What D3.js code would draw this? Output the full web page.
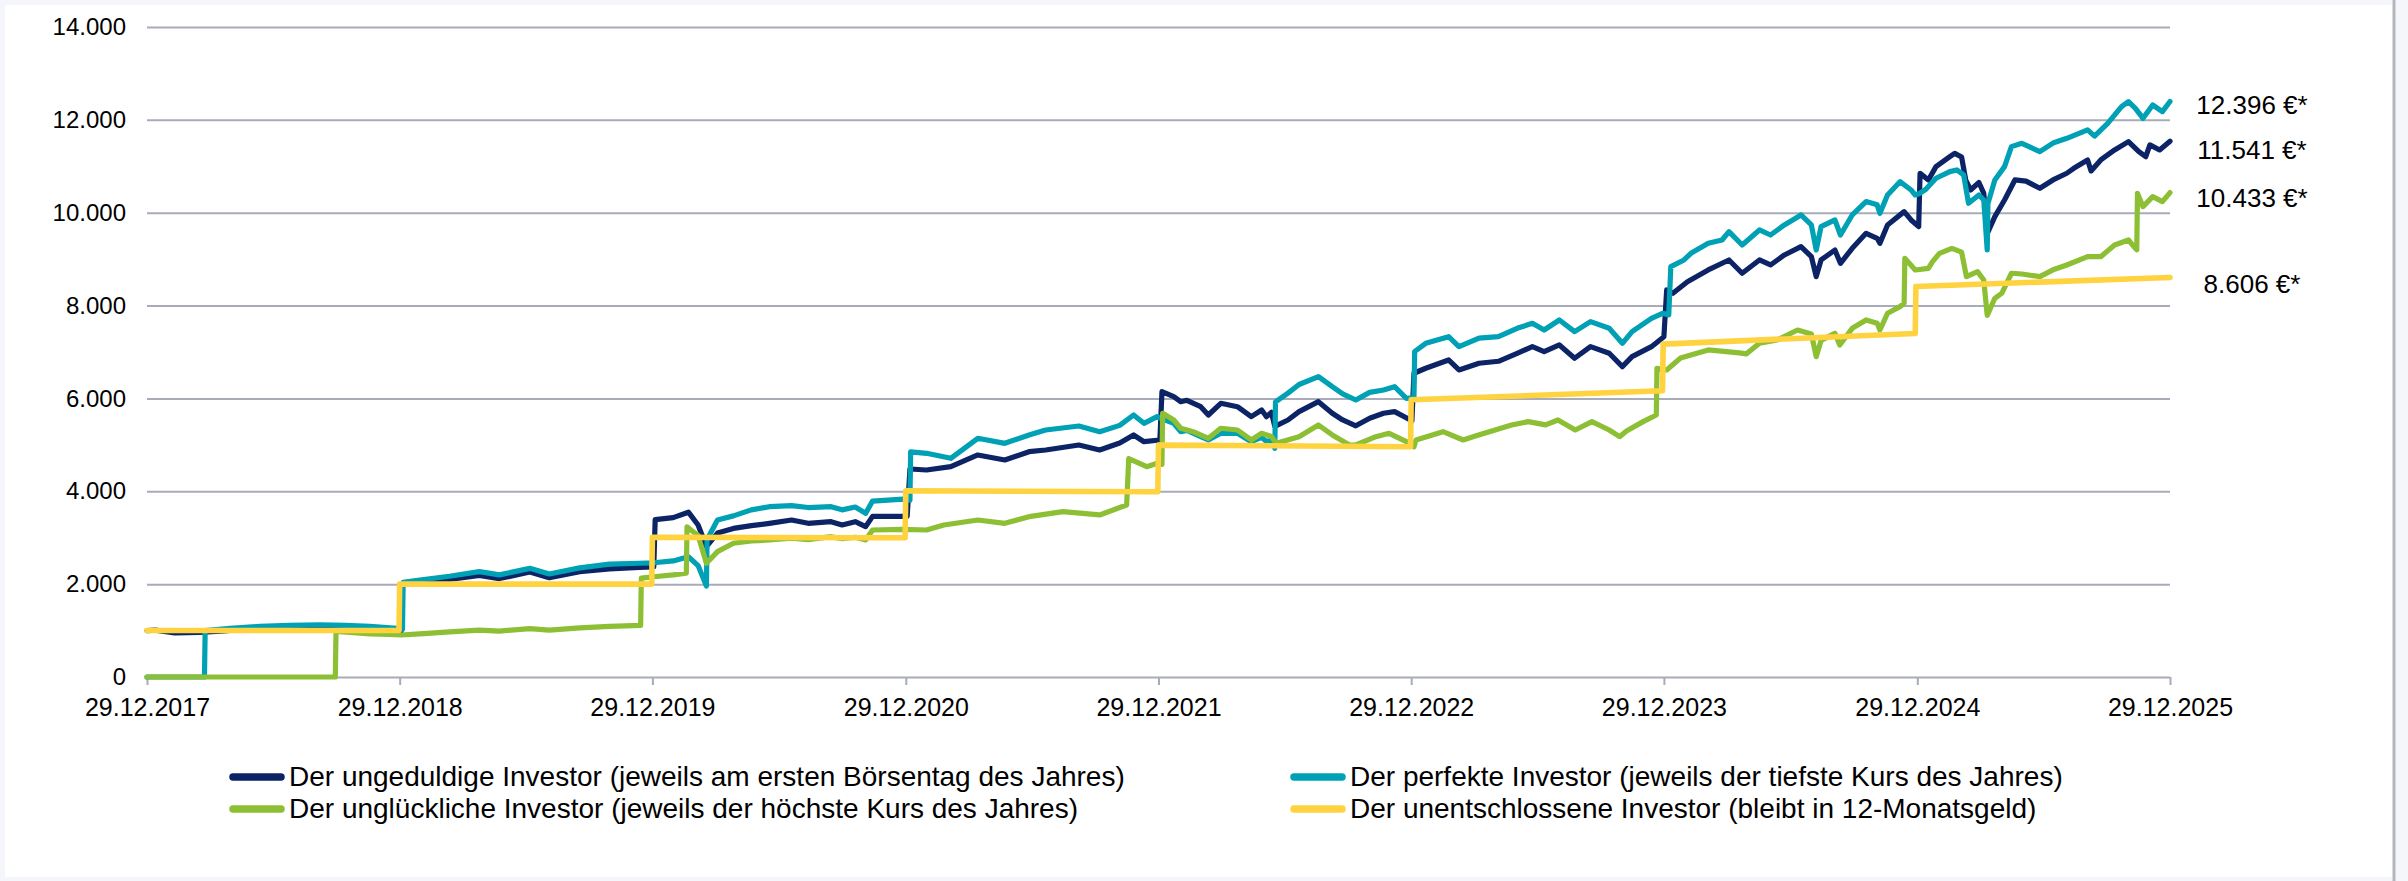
<!DOCTYPE html>
<html lang="de">
<head>
<meta charset="UTF-8">
<title>Vier Anlegertypen im Vergleich</title>
<script src="https://cdn.jsdelivr.net/npm/d3@7"></script>
<style>
  html, body { margin: 0; padding: 0; background: #f4f6fb; }
  svg { display: block; font-family: "Liberation Sans", Arial, sans-serif; }
  .grid .tick line { stroke: #a8abb8; stroke-width: 2; }
  .grid .tick text { font-size: 24px; fill: #000; }
  .xaxis .tick line { stroke: #a8abb8; stroke-width: 2; }
  .xaxis .tick text { font-size: 25px; fill: #000; }
  .series { fill: none; stroke-linejoin: round; stroke-linecap: round; }
  .endlabel { font-size: 26px; fill: #000; text-anchor: middle; }
  .legend text { font-size: 28px; fill: #000; }
</style>
</head>
<body>
<svg id="chart" width="2408" height="881"></svg>
<script>
// ---- data ----
const seriesNames = [
  "Der ungeduldige Investor (jeweils am ersten Börsentag des Jahres)",
  "Der perfekte Investor (jeweils der tiefste Kurs des Jahres)",
  "Der unglückliche Investor (jeweils der höchste Kurs des Jahres)",
  "Der unentschlossene Investor (bleibt in 12-Monatsgeld)"
];
const seriesColors = ["#0c2466", "#00a1b5", "#8cbf33", "#ffd23f"];

const xTicks = ["2017-12-29", "2018-12-29", "2019-12-29", "2020-12-29", "2021-12-29",
                "2022-12-29", "2023-12-29", "2024-12-29", "2025-12-29"];
const yTicks = [0, 2000, 4000, 6000, 8000, 10000, 12000, 14000];

// der ungeduldige Investor
const ungeduldig = [
  ["2017-12-29",1000],["2018-01-10",1010],["2018-02-07",950],["2018-03-15",960],["2018-04-20",995],
  ["2018-05-26",1040],["2018-07-09",1060],["2018-08-21",1070],["2018-10-04",1075],["2018-11-09",1030],
  ["2018-12-08",1010],["2018-12-31",990],
  ["2019-01-02",1990],["2019-01-27",2030],["2019-03-11",2100],["2019-04-23",2190],["2019-05-22",2120],
  ["2019-07-05",2260],["2019-08-02",2140],["2019-09-15",2270],["2019-10-28",2330],["2019-12-10",2360],
  ["2019-12-31",2370],
  ["2020-01-02",3390],["2020-01-28",3432],["2020-02-19",3550],["2020-03-04",3274],["2020-03-16",2810],
  ["2020-04-01",3100],["2020-04-24",3200],["2020-05-20",3260],["2020-06-15",3310],["2020-07-17",3382],
  ["2020-08-10",3310],["2020-09-12",3346],["2020-09-28",3274],["2020-10-17",3346],["2020-11-01",3238],
  ["2020-11-11",3460],["2020-12-31",3460],
  ["2021-01-04",4480],["2021-01-28",4459],["2021-03-04",4530],["2021-04-12",4782],["2021-05-21",4674],
  ["2021-06-25",4853],["2021-07-19",4890],["2021-09-05",4997],["2021-10-05",4890],["2021-11-03",5040],
  ["2021-11-23",5213],["2021-12-08",5068],["2021-12-31",5105],
  ["2022-01-03",6146],["2022-01-20",6038],["2022-01-30",5930],["2022-02-08",5960],["2022-02-28",5822],
  ["2022-03-11",5643],["2022-03-29",5895],["2022-04-22",5822],["2022-05-12",5607],["2022-05-27",5751],
  ["2022-06-03",5607],["2022-06-10",5700],["2022-06-15",5400],["2022-07-04",5536],["2022-07-20",5715],
  ["2022-08-17",5930],["2022-09-06",5680],["2022-09-21",5536],["2022-10-10",5410],["2022-10-30",5572],
  ["2022-11-19",5680],["2022-12-05",5715],["2022-12-30",5520],
  ["2023-01-02",6542],["2023-01-19",6650],["2023-02-21",6828],["2023-03-08",6613],["2023-04-06",6757],
  ["2023-05-04",6800],["2023-05-31",6972],["2023-06-22",7115],["2023-07-09",7007],["2023-07-31",7151],
  ["2023-08-22",6865],["2023-09-14",7115],["2023-10-11",6972],["2023-10-30",6684],["2023-11-13",6900],
  ["2023-12-11",7115],["2023-12-29",7330],
  ["2024-01-02",8336],["2024-01-11",8265],["2024-02-01",8515],["2024-03-02",8767],["2024-04-01",8982],
  ["2024-04-20",8696],["2024-05-15",8982],["2024-05-31",8874],["2024-06-20",9090],["2024-07-14",9269],
  ["2024-07-29",9054],["2024-08-05",8623],["2024-08-12",8982],["2024-09-01",9197],["2024-09-09",8910],
  ["2024-09-26",9233],["2024-10-16",9556],["2024-11-01",9448],["2024-11-05",9340],["2024-11-16",9736],
  ["2024-12-10",10023],["2024-12-20",9844],["2024-12-31",9700],
  ["2025-01-02",10850],["2025-01-14",10706],["2025-01-25",10993],["2025-02-14",11207],["2025-02-21",11279],
  ["2025-03-03",11200],["2025-03-09",10700],["2025-03-16",10490],["2025-03-28",10650],["2025-04-04",10418],
  ["2025-04-09",9550],["2025-04-20",9915],["2025-05-04",10275],["2025-05-19",10706],["2025-06-04",10680],
  ["2025-06-24",10526],["2025-07-13",10706],["2025-08-02",10850],["2025-08-12",10957],["2025-09-01",11136],
  ["2025-09-06",10900],["2025-09-20",11136],["2025-10-10",11352],["2025-10-30",11531],["2025-11-14",11315],
  ["2025-11-24",11207],["2025-11-30",11460],["2025-12-14",11352],["2025-12-29",11541]
];

// der perfekte Investor
const perfekt = [
  ["2017-12-29",0],["2018-03-22",0],["2018-03-23",1000],["2018-04-28",1050],["2018-06-10",1090],
  ["2018-07-23",1110],["2018-09-05",1125],["2018-10-11",1110],["2018-11-16",1090],["2018-12-15",1060],
  ["2018-12-31",1040],
  ["2019-01-02",1030],["2019-01-03",2040],["2019-01-27",2090],["2019-03-11",2170],["2019-04-23",2270],
  ["2019-05-22",2200],["2019-07-05",2340],["2019-08-02",2220],["2019-09-15",2350],["2019-10-28",2430],
  ["2019-12-10",2450],["2019-12-31",2460],
  ["2020-01-28",2500],["2020-02-19",2590],["2020-03-04",2400],["2020-03-16",1960],["2020-03-17",2960],
  ["2020-04-01",3382],["2020-04-24",3470],["2020-05-20",3600],["2020-06-15",3668],["2020-07-17",3690],
  ["2020-08-10",3650],["2020-09-12",3668],["2020-09-28",3600],["2020-10-17",3660],["2020-11-01",3525],
  ["2020-11-11",3790],["2020-12-25",3830],["2021-01-04",3810],
  ["2021-01-05",4850],["2021-01-28",4818],["2021-03-04",4710],["2021-04-12",5141],["2021-05-21",5033],
  ["2021-06-25",5213],["2021-07-19",5320],["2021-09-05",5406],["2021-10-05",5284],["2021-11-03",5420],
  ["2021-11-23",5643],["2021-12-08",5464],["2021-12-27",5607],
  ["2022-01-03",5560],["2022-01-20",5464],["2022-01-30",5284],["2022-02-08",5310],["2022-02-28",5176],
  ["2022-03-11",5105],["2022-03-29",5249],["2022-04-22",5250],["2022-05-12",5069],["2022-05-27",5160],
  ["2022-06-03",5070],["2022-06-10",5100],["2022-06-15",4926],["2022-06-16",5926],["2022-07-04",6115],
  ["2022-07-20",6300],["2022-08-17",6470],["2022-09-06",6253],["2022-09-21",6100],["2022-10-10",5966],
  ["2022-10-30",6130],["2022-11-19",6182],["2022-12-05",6253],["2022-12-22",6003],["2023-01-02",6010],
  ["2023-01-03",7010],["2023-01-19",7187],["2023-02-21",7330],["2023-03-08",7115],["2023-04-06",7300],
  ["2023-05-04",7330],["2023-05-31",7510],["2023-06-22",7618],["2023-07-09",7474],["2023-07-31",7690],
  ["2023-08-22",7438],["2023-09-14",7654],["2023-10-11",7510],["2023-10-30",7187],["2023-11-13",7438],
  ["2023-12-11",7726],["2023-12-27",7834],["2024-01-05",7800],
  ["2024-01-08",8838],["2024-01-27",8982],["2024-02-06",9126],["2024-03-02",9341],["2024-03-22",9413],
  ["2024-04-01",9592],["2024-04-20",9305],["2024-05-15",9628],["2024-05-31",9520],["2024-06-20",9736],
  ["2024-07-14",9951],["2024-07-29",9736],["2024-08-05",9197],["2024-08-12",9700],["2024-09-01",9844],
  ["2024-09-09",9520],["2024-09-26",9951],["2024-10-16",10239],["2024-11-01",10170],["2024-11-05",9987],
  ["2024-11-16",10382],["2024-12-04",10669],["2024-12-20",10490],["2024-12-26",10382],
  ["2025-01-02",10420],["2025-01-10",10500],["2025-01-25",10742],["2025-02-14",10885],["2025-02-24",10921],
  ["2025-03-06",10813],["2025-03-13",10203],["2025-03-28",10382],["2025-04-04",10275],["2025-04-09",9197],
  ["2025-04-10",10197],["2025-04-20",10706],["2025-05-04",10993],["2025-05-14",11423],["2025-05-29",11495],
  ["2025-06-24",11315],["2025-07-13",11500],["2025-08-02",11603],["2025-09-01",11783],["2025-09-11",11650],
  ["2025-09-30",11926],["2025-10-20",12284],["2025-10-30",12392],["2025-11-09",12248],["2025-11-20",12033],
  ["2025-12-04",12320],["2025-12-18",12177],["2025-12-29",12396]
];

// der unglückliche Investor
const ungluecklich = [
  ["2017-12-29",0],["2018-09-27",0],["2018-09-28",980],["2018-10-18",960],["2018-11-16",930],
  ["2018-12-15",915],["2018-12-31",905],
  ["2019-01-27",930],["2019-03-11",970],["2019-04-23",1010],["2019-05-22",990],["2019-07-05",1040],
  ["2019-08-02",1010],["2019-09-15",1060],["2019-10-28",1090],["2019-12-12",1110],["2019-12-13",2130],
  ["2019-12-31",2160],
  ["2020-01-28",2200],["2020-02-16",2234],["2020-02-17",3234],["2020-02-24",3150],["2020-03-04",3050],
  ["2020-03-16",2450],["2020-04-01",2700],["2020-04-24",2880],["2020-05-20",2930],["2020-06-15",2951],
  ["2020-07-17",2988],["2020-08-10",2960],["2020-09-12",3022],["2020-09-28",2980],["2020-10-17",3010],
  ["2020-11-01",2951],["2020-11-11",3166],["2020-12-25",3180],
  ["2021-01-28",3166],["2021-02-22",3274],["2021-04-12",3382],["2021-05-21",3310],["2021-06-25",3453],
  ["2021-08-13",3561],["2021-10-05",3490],["2021-11-13",3705],["2021-11-16",4705],["2021-12-12",4530],
  ["2021-12-27",4603],
  ["2022-01-03",4580],["2022-01-04",5680],["2022-01-20",5536],["2022-01-30",5357],["2022-02-17",5284],
  ["2022-03-11",5141],["2022-03-29",5357],["2022-04-22",5320],["2022-05-12",5105],["2022-05-27",5250],
  ["2022-06-10",5180],["2022-06-17",5033],["2022-07-20",5176],["2022-08-17",5428],["2022-09-06",5213],
  ["2022-10-01",4997],["2022-10-10",4997],["2022-11-08",5176],["2022-11-27",5249],["2022-12-22",5069],
  ["2023-01-02",4960],["2023-01-05",5105],["2023-02-13",5284],["2023-03-14",5105],["2023-04-03",5200],
  ["2023-05-23",5428],["2023-06-16",5500],["2023-07-11",5430],["2023-07-29",5536],["2023-08-23",5320],
  ["2023-09-16",5500],["2023-10-11",5320],["2023-10-26",5176],["2023-11-05",5300],["2023-11-29",5500],
  ["2023-12-18",5643],["2023-12-19",6650],["2023-12-27",6620],
  ["2024-01-02",6613],["2024-01-22",6870],["2024-03-02",7044],["2024-04-16",6980],["2024-04-26",6960],
  ["2024-05-15",7187],["2024-06-10",7259],["2024-07-09",7474],["2024-07-29",7390],["2024-08-05",6900],
  ["2024-08-12",7250],["2024-09-01",7402],["2024-09-08",7151],["2024-09-26",7510],["2024-10-16",7690],
  ["2024-11-01",7620],["2024-11-05",7474],["2024-11-16",7834],["2024-12-04",7977],["2024-12-10",8049],
  ["2024-12-11",9018],["2024-12-26",8767],
  ["2025-01-14",8800],["2025-01-20",8946],["2025-01-30",9126],["2025-02-17",9233],["2025-03-03",9150],
  ["2025-03-10",8623],["2025-03-26",8730],["2025-04-04",8551],["2025-04-09",7790],["2025-04-20",8157],
  ["2025-04-30",8265],["2025-05-14",8696],["2025-05-29",8680],["2025-06-24",8623],["2025-07-13",8770],
  ["2025-08-02",8874],["2025-09-01",9054],["2025-09-20",9054],["2025-10-10",9305],["2025-10-30",9413],
  ["2025-11-09",9233],["2025-11-11",9200],["2025-11-12",10418],["2025-11-20",10131],["2025-12-04",10346],
  ["2025-12-18",10239],["2025-12-29",10433]
];

// der unentschlossene Investor (12-Monatsgeld)
const unentschlossen = [
  ["2017-12-29",1000],["2018-12-28",1000],["2018-12-29",2000],["2019-12-28",2000],["2019-12-29",3010],
  ["2020-12-28",3000],["2020-12-29",4010],["2021-12-28",3990],["2021-12-29",4995],["2022-12-28",4960],
  ["2022-12-29",5970],["2023-12-27",6165],["2023-12-28",7170],["2024-12-26",7400],["2024-12-27",8410],
  ["2025-12-29",8606]
];

const allSeries = [ungeduldig, perfekt, ungluecklich, unentschlossen];
// ---------------------------------------------------

const svg = d3.select("#chart");
const W = 2408, H = 881;
const margin = { left: 147, right: 238, top: 27, bottom: 204 };
const plotW = W - margin.left - margin.right;
const plotH = H - margin.top - margin.bottom;

const parse = d3.timeParse("%Y-%m-%d");
const de = d3.formatLocale({ decimal: ",", thousands: ".", grouping: [3], currency: ["", " €"] });
const fmt = de.format(",d");

// frame
svg.append("rect").attr("x", 0).attr("y", 0).attr("width", W).attr("height", H).attr("fill", "#f4f6fb");
svg.append("rect").attr("x", 5).attr("y", 5).attr("width", 2388).attr("height", 872).attr("fill", "#fff");
svg.append("line").attr("x1", 2394).attr("x2", 2394).attr("y1", 0).attr("y2", H)
  .attr("stroke", "#b4b6bd").attr("stroke-width", 3);

const g = svg.append("g").attr("transform", `translate(${margin.left},${margin.top})`);

const x = d3.scaleTime()
  .domain([parse(xTicks[0]), parse(xTicks[xTicks.length - 1])])
  .range([0, plotW]);
const y = d3.scaleLinear().domain([0, 14000]).range([plotH, 0]);

// horizontal grid + y labels
const gy = g.append("g").attr("class", "grid")
  .call(d3.axisLeft(y).tickValues(yTicks).tickSize(-plotW).tickPadding(21).tickFormat(fmt));
gy.select(".domain").remove();

// x axis ticks + labels
const gx = g.append("g").attr("class", "xaxis")
  .attr("transform", `translate(0,${plotH})`)
  .call(d3.axisBottom(x).tickValues(xTicks.map(parse)).tickSize(8).tickPadding(13)
    .tickFormat(d3.timeFormat("%d.%m.%Y")));
gx.select(".domain").remove();

// series
const line = d3.line()
  .x(d => x(parse(d[0])))
  .y(d => y(d[1]));

g.selectAll(".series")
  .data(allSeries)
  .join("path")
  .attr("class", "series")
  .attr("stroke", (d, i) => seriesColors[i])
  .attr("stroke-width", (d, i) => i === 3 ? 5.6 : 5.2)
  .attr("d", line);

// end value labels
const labelNudge = [8, 3.5, 5, 6];
g.selectAll(".endlabel")
  .data(allSeries)
  .join("text")
  .attr("class", "endlabel")
  .attr("x", plotW + 82)
  .attr("y", (d, i) => y(d[d.length - 1][1]) + labelNudge[i])
  .attr("dy", "0.36em")
  .text(d => fmt(d[d.length - 1][1]) + " €*");

// legend (two columns, two rows)
const legendOrder = [0, 1, 2, 3];
const legend = svg.append("g").attr("class", "legend");
const colX = [233, 1294];
const rowY = [777, 809];
legendOrder.forEach((s, k) => {
  const lx = colX[k % 2], ly = rowY[Math.floor(k / 2)];
  const item = legend.append("g").attr("transform", `translate(${lx},${ly})`);
  item.append("line")
    .attr("x1", 0).attr("x2", 48).attr("y1", 0).attr("y2", 0)
    .attr("stroke", seriesColors[s]).attr("stroke-width", 7.5).attr("stroke-linecap", "round");
  item.append("text")
    .attr("x", 56).attr("y", 0).attr("dy", "0.33em")
    .text(seriesNames[s]);
});
</script>
</body>
</html>
